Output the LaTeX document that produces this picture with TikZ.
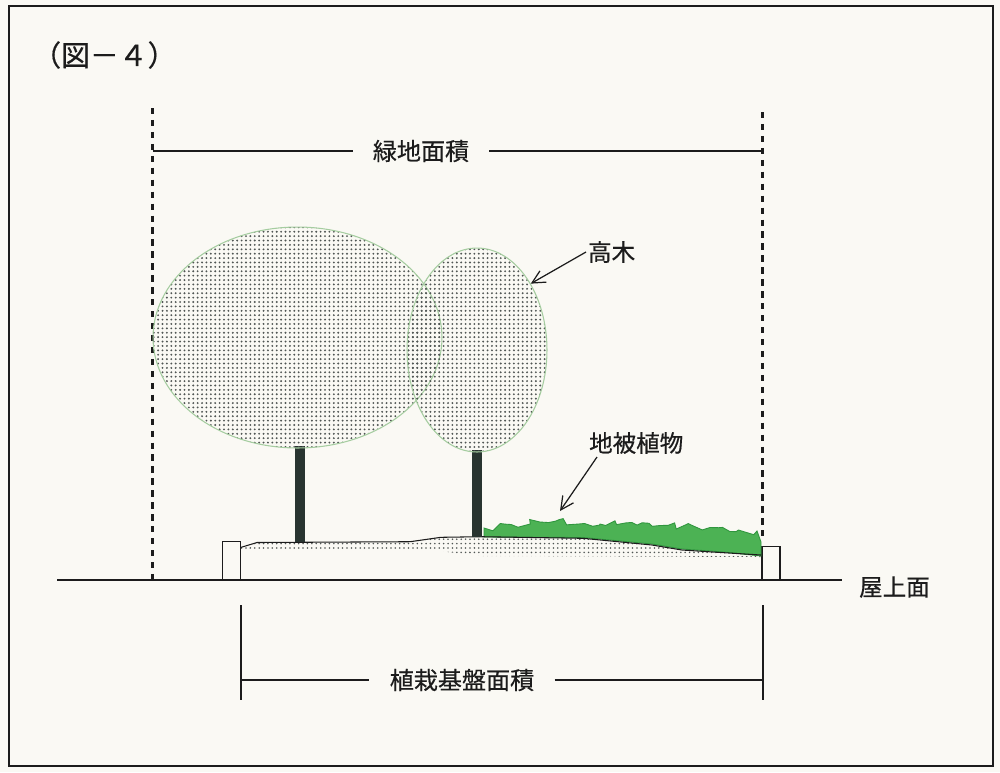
\documentclass[tikz,border=0pt]{standalone}
\usepackage{fontspec}
\newfontfamily\jpfont{Noto Sans CJK JP}[FakeBold=0.5]
\usetikzlibrary{patterns.meta,arrows.meta,decorations.pathmorphing,shapes.geometric}

\definecolor{paper}{RGB}{250,249,244}
\definecolor{ink}{RGB}{28,28,28}
\definecolor{leafedge}{RGB}{165,205,160}
\definecolor{dotc}{RGB}{80,86,84}
\definecolor{trunk}{RGB}{40,52,48}
\definecolor{moss}{RGB}{76,178,84}
\definecolor{mossdark}{RGB}{48,150,62}

\tikzset{
  crown/.style={ellipse, draw=leafedge, line width=0.6pt, inner sep=0pt,
    pattern={Dots[radius=0.6pt, distance=2.5pt]}, pattern color=dotc},
  jplabel/.style={font=\jpfont\fontsize{13.4pt}{16pt}\selectfont, text=ink, inner sep=1pt},
  dimlabel/.style={jplabel, font=\jpfont\fontsize{13.7pt}{16pt}\selectfont, inner xsep=0.4cm},
  dimline/.style={draw=ink, line width=0.85pt},
  guide/.style={draw=ink, line width=1.3pt, dash pattern=on 3.6pt off 3.2pt},
  pointer/.style={draw=ink, line width=0.7pt, -{Straight Barb[length=2.6mm,width=2.6mm]}},
  soildots/.style={pattern={Dots[radius=0.5pt, distance=2.5pt]}, pattern color=dotc},
}

\begin{document}
\begin{tikzpicture}[x=0.02cm, y=-0.02cm]
  % paper and frame
  \fill[paper] (0,0) rectangle (1000,772);
  \useasboundingbox (0,0) rectangle (1000,772);
  \draw[ink, line width=1pt] (9,6) rectangle (993,766);

  % title
  \node[jplabel, inner sep=0pt, anchor=west, font=\jpfont\fontsize{16.4pt}{18pt}\selectfont] (title) at (32,55) {（図－４）};

  % extent of the green area
  \coordinate (gl-top) at (152.5,108);
  \coordinate (gl-bot) at (152.5,580);
  \coordinate (gr-top) at (762.5,112);
  \coordinate (gr-bot) at (762.5,540);
  \draw[guide] (gl-top) -- (gl-bot);
  \draw[guide] (gr-top) -- (gr-bot);
  \node[dimlabel] (greenarea) at (421,151) {緑地面積};
  \draw[dimline] (gl-top |- greenarea.west) -- (greenarea.west);
  \draw[dimline] (greenarea.east) -- (gr-top |- greenarea.east);

  % roof surface
  \coordinate (roof-w) at (57,580);
  \coordinate (roof-e) at (842,580);
  \draw[ink, line width=1.1pt] (roof-w) -- (roof-e);
  \node[jplabel, anchor=west] (roof) at (857,587) {屋上面};

  % curbs at both ends of the planting bed
  \draw[ink, line width=0.8pt] (222.5,541.5) rectangle (240.5,579.5);
  \draw[ink, line width=0.8pt] (762,546.5) rectangle (780,579.5);

  % planting soil
  \path[soildots] (240.5,547.5) -- (257,542.5) -- (410,541.7) -- (441,537.3)
    -- (481,536.7) -- (583,538.3) -- (652,545) -- (682,550) -- (724,552.7)
    -- (761,555) -- (761,557) -- (480,556) -- (440,551) -- (240.5,551) -- cycle;

  % ground cover
  \pgfmathsetseed{31}
  \filldraw[fill=moss, draw=mossdark, line width=0.5pt]
    (484,537) -- (484,528)
    decorate[decoration={random steps, segment length=3.5pt, amplitude=2.4pt}]
      { -- (540,522) -- (600,524) -- (660,525.5) -- (710,527.5) -- (757,531) }
    -- (761,542) -- (761,556) -- (724,552) -- (682,549) -- (652,544)
    -- (583,537.5) -- cycle;

  % soil surface
  \draw[ink, line width=0.6pt] (240.5,547.5) -- (257,542.5) -- (410,541.7) -- (441,537.3)
    -- (481,536.7) -- (583,538.3) -- (652,545) -- (682,550) -- (724,552.7) -- (761,555);

  % trunks
  \fill[trunk] (295,446) rectangle (305,542);
  \fill[trunk] (472,450) rectangle (482,537);

  % crowns
  \node[crown, minimum width=5.78cm, minimum height=4.42cm] (bigtree) at (297.5,337.5) {};
  \node[crown, minimum width=2.8cm, minimum height=4.08cm] (smalltree) at (477,350) {};

  % labels with pointers
  \node[jplabel, anchor=west] (tall) at (586,252) {高木};
  \draw[pointer] (tall.west) -- (smalltree.51);

  \node[jplabel, anchor=west] (cover) at (587,443) {地被植物};
  \coordinate (cover-from) at (597,457);
  \coordinate (cover-to) at (560,511);
  \draw[pointer] (cover-from) -- (cover-to);

  % extent of the planting base
  \coordinate (bl-top) at (241,605);
  \coordinate (bl-bot) at (241,700);
  \coordinate (br-top) at (763,605);
  \coordinate (br-bot) at (763,700);
  \draw[dimline] (bl-top) -- (bl-bot);
  \draw[dimline] (br-top) -- (br-bot);
  \node[dimlabel] (basearea) at (462,680) {植栽基盤面積};
  \draw[dimline] (bl-top |- basearea.west) -- (basearea.west);
  \draw[dimline] (basearea.east) -- (br-top |- basearea.east);
\end{tikzpicture}
\end{document}
